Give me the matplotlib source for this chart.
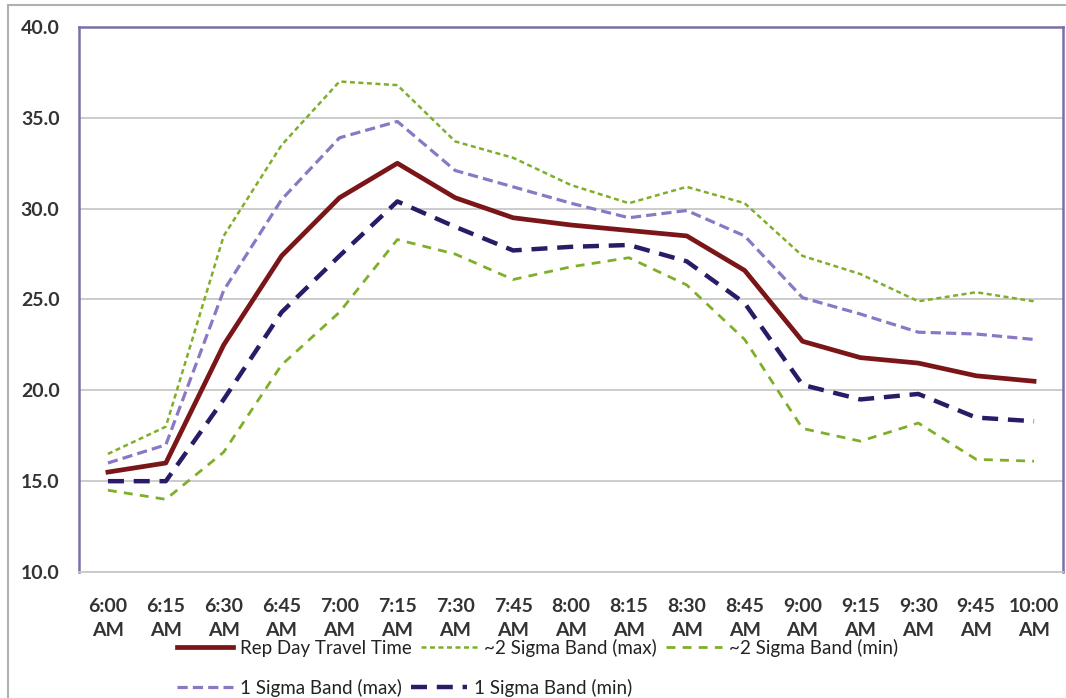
import matplotlib
matplotlib.use("Agg")
import matplotlib.pyplot as plt
import numpy as np
from matplotlib.patches import Rectangle

times = ["6:00\nAM", "6:15\nAM", "6:30\nAM", "6:45\nAM", "7:00\nAM", "7:15\nAM", "7:30\nAM",
         "7:45\nAM", "8:00\nAM", "8:15\nAM", "8:30\nAM", "8:45\nAM", "9:00\nAM", "9:15\nAM",
         "9:30\nAM", "9:45\nAM", "10:00\nAM"]
rep_day = [15.5, 16.0, 22.5, 27.4, 30.6, 32.5, 30.6, 29.5, 29.1, 28.8, 28.5, 26.6, 22.7, 21.8, 21.5, 20.8, 20.5]
sig2_max = [16.5, 18.0, 28.5, 33.5, 37.0, 36.8, 33.7, 32.8, 31.3, 30.3, 31.2, 30.3, 27.4, 26.4, 24.9, 25.4, 24.9]
sig2_min = [14.5, 14.0, 16.6, 21.4, 24.3, 28.3, 27.5, 26.1, 26.8, 27.3, 25.8, 22.8, 17.9, 17.2, 18.2, 16.2, 16.1]
sig1_max = [16.0, 17.0, 25.5, 30.5, 33.9, 34.8, 32.1, 31.2, 30.3, 29.5, 29.9, 28.5, 25.1, 24.2, 23.2, 23.1, 22.8]
sig1_min = [15.0, 15.0, 19.5, 24.3, 27.4, 30.4, 29.0, 27.7, 27.9, 28.0, 27.1, 24.8, 20.3, 19.5, 19.8, 18.5, 18.3]
labels = ["Rep Day Travel Time", "~2 Sigma Band (max)", "~2 Sigma Band (min)",
          "1 Sigma Band (max)", "1 Sigma Band (min)"]

plt.rcParams['font.family'] = ['Lato', 'DejaVu Sans']

fig = plt.figure(figsize=(10.66, 6.98), dpi=100)
W, H = 1066, 698
ax = fig.add_axes([79 / W, 1 - 572 / H, (1063 - 79) / W, (572 - 27) / H])

xs = np.arange(len(times))
series = [
    (rep_day, dict(color="#7A1518", lw=3.4, ls="-")),
    (sig2_max, dict(color="#7FAF2A", lw=1.8, ls=(0, (2.0, 1.4)))),
    (sig2_min, dict(color="#7FAF2A", lw=2.0, ls=(0, (3.2, 2.6)))),
    (sig1_max, dict(color="#8A78C4", lw=2.3, ls=(0, (3.2, 1.6)))),
    (sig1_min, dict(color="#2B1A66", lw=3.2, ls=(0, (3.6, 2.2)))),
]
draw_order = [2, 1, 4, 3, 0]
lines = {}
for k in draw_order:
    vals, st = series[k]
    ln, = ax.plot(xs, vals, color=st["color"], lw=st["lw"], ls=st["ls"],
                  dash_capstyle="butt", solid_joinstyle="round", dash_joinstyle="round",
                  zorder=3 + (k == 0), label=labels[k])
    lines[k] = ln

ax.set_xlim(-0.5, len(times) - 0.5)
ax.set_ylim(10, 40)
ax.set_yticks(np.arange(10, 41, 5))
ax.set_yticklabels([f"{v:.1f}" for v in np.arange(10, 41, 5)])
ax.set_xticks(xs)
ax.set_xticklabels(times, linespacing=1.45)
ax.tick_params(length=0, labelsize=14, labelcolor="#333333")
for lab in ax.get_xticklabels() + ax.get_yticklabels():
    lab.set_fontweight("bold")
ax.tick_params(axis="x", pad=19)
ax.tick_params(axis="y", pad=14)
ax.grid(axis="y", color="#C8C8C8", lw=1.3)
ax.set_axisbelow(True)
for s in ["left", "top", "right"]:
    ax.spines[s].set_color("#7C6FA6")
    ax.spines[s].set_linewidth(1.8)
ax.spines["bottom"].set_color("#C8C8C8")
ax.spines["bottom"].set_linewidth(1.3)

# figure border
fig.add_artist(Rectangle((8 / W, -0.01), 1.02, 1 - 5 / H + 0.01, transform=fig.transFigure,
                         fill=False, edgecolor="#B0B0B0", lw=1.5))

handles = [lines[k] for k in range(5)]
leg_kw = dict(frameon=False, fontsize=13.5, handlelength=3.0, handletextpad=0.35,
              columnspacing=0.5, borderpad=0, borderaxespad=0, labelcolor="#222222")
l1 = fig.legend(handles[:3], labels[:3], loc="center left", ncol=3,
                bbox_to_anchor=(177 / W, 1 - 648 / H), **leg_kw)
l2 = fig.legend(handles[3:], labels[3:], loc="center left", ncol=2,
                bbox_to_anchor=(177 / W, 1 - 688 / H), **leg_kw)

fig.savefig("out.png", dpi=100, facecolor="white")
